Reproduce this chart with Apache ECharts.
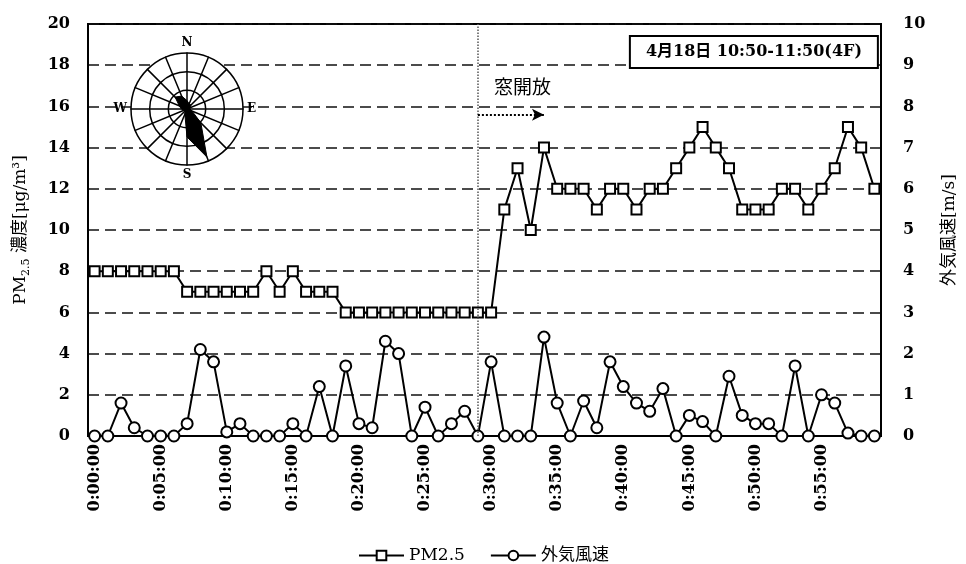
<!DOCTYPE html>
<html><head><meta charset="utf-8">
<script src="https://cdn.jsdelivr.net/npm/echarts@6/dist/echarts.min.js"></script>
<style>html,body{margin:0;padding:0;background:#fff}#c{width:966px;height:564px}</style>
</head><body><div id="c"></div>
<script>
const times = ['0:00:00','0:01:00','0:02:00','0:03:00','0:04:00','0:05:00','0:06:00','0:07:00','0:08:00','0:09:00',
'0:10:00','0:11:00','0:12:00','0:13:00','0:14:00','0:15:00','0:16:00','0:17:00','0:18:00','0:19:00',
'0:20:00','0:21:00','0:22:00','0:23:00','0:24:00','0:25:00','0:26:00','0:27:00','0:28:00','0:29:00',
'0:30:00','0:31:00','0:32:00','0:33:00','0:34:00','0:35:00','0:36:00','0:37:00','0:38:00','0:39:00',
'0:40:00','0:41:00','0:42:00','0:43:00','0:44:00','0:45:00','0:46:00','0:47:00','0:48:00','0:49:00',
'0:50:00','0:51:00','0:52:00','0:53:00','0:54:00','0:55:00','0:56:00','0:57:00','0:58:00','0:59:00'];
const pm25 = [8,8,8,8,8,8,8,7,7,7, 7,7,7,8,7,8,7,7,7,6, 6,6,6,6,6,6,6,6,6,6,
6,11,13,10,14,12,12,12,11,12, 12,11,12,12,13,14,15,14,13,11, 11,11,12,12,11,12,13,15,14,12];
const wind = [0,0,0.8,0.2,0,0,0,0.3,2.1,1.8, 0.1,0.3,0,0,0,0.3,0,1.2,0,1.7,
0.3,0.2,2.3,2.0,0,0.7,0,0.3,0.6,0, 1.8,0,0,0,2.4,0.8,0,0.85,0.2,1.8,
1.2,0.8,0.6,1.15,0,0.5,0.35,0,1.45,0.5, 0.3,0.3,0,1.7,0,1.0,0.8,0.07,0,0];
// wind rose, counter-clockwise from north
const roseLabels = ['N','','','','W','','','','S','','','','E','','',''];
const roseValues = [0.15,0.25,0.3,0.15,0.1,0.05,0.05,0.1,0.5,0.93,0.35,0.1,0.05,0.05,0.1,0.1];
const windowOpenTime = '0:29:00';
const arrowEndTime = '0:34:00';
const arrowLevel = 15.6;
const titleText = '4月18日 10:50-11:50(4F)';

const serif = 'DejaVu Serif, Noto Sans CJK JP, serif';
const chart = echarts.init(document.getElementById('c'));
chart.setOption({
  animation: false,
  backgroundColor: '#fff',
  title: {
    text: titleText, right: 88, top: 36,
    borderColor: '#000', borderWidth: 2, backgroundColor: '#fff',
    padding: [8, 16],
    textStyle: {fontFamily: serif, fontWeight: 'bold', fontSize: 16, color: '#000'}
  },
  legend: {
    left: 353, top: 542, itemWidth: 45, itemHeight: 12, itemGap: 25,
    data: ['PM2.5', '外気風速'],
    textStyle: {fontFamily: serif, fontSize: 17, color: '#000'}
  },
  grid: {left: 88, right: 81, top: 24, bottom: 128, show: true, borderColor: '#000', borderWidth: 2},
  radar: {
    center: [187, 109], radius: 56, startAngle: 90, shape: 'circle', splitNumber: 3, z: 3,
    indicator: roseLabels.map(n => ({name: n, max: 1})),
    nameGap: 4,
    axisName: {color: '#000', fontFamily: serif, fontWeight: 'bold', fontSize: 12},
    splitLine: {lineStyle: {color: '#000', width: 1.5}},
    splitArea: {show: true, areaStyle: {color: ['#fff']}},
    axisLine: {lineStyle: {color: '#000', width: 1.5}}
  },
  xAxis: {
    type: 'category', data: times, boundaryGap: true,
    axisLine: {lineStyle: {color: '#000', width: 2}},
    axisTick: {show: false},
    axisLabel: {interval: 4, rotate: 90, margin: 8, color: '#000', fontFamily: serif, fontWeight: 'bold', fontSize: 16}
  },
  yAxis: [{
    type: 'value', min: 0, max: 20, interval: 2,
    name: '{a|PM}{s|2.5}{a| 濃度[μg/m³]}', nameLocation: 'middle', nameRotate: 90, nameGap: 56,
    nameTextStyle: {rich: {
      a: {fontFamily: serif, fontSize: 17, color: '#000', lineHeight: 22},
      s: {fontFamily: serif, fontSize: 11, color: '#000', verticalAlign: 'bottom', lineHeight: 22, padding: [8, 0, 0, 0]}
    }},
    axisLine: {show: true, lineStyle: {color: '#000', width: 2}},
    axisTick: {show: false},
    axisLabel: {margin: 18, color: '#000', fontFamily: serif, fontWeight: 'bold', fontSize: 16},
    splitLine: {lineStyle: {color: '#111', width: 1.6, type: [11, 6]}}
  }, {
    type: 'value', min: 0, max: 10, interval: 1, position: 'right',
    name: '外気風速[m/s]', nameLocation: 'middle', nameRotate: 90, nameGap: 60,
    nameTextStyle: {fontFamily: serif, fontSize: 17, color: '#000'},
    axisLine: {show: true, lineStyle: {color: '#000', width: 2}},
    axisTick: {show: false},
    axisLabel: {margin: 22, color: '#000', fontFamily: serif, fontWeight: 'bold', fontSize: 16},
    splitLine: {show: false}
  }],
  series: [{
    name: 'PM2.5', type: 'line', data: pm25, yAxisIndex: 0,
    symbol: 'rect', symbolSize: 10, showAllSymbol: true,
    lineStyle: {color: '#000', width: 2},
    itemStyle: {color: '#fff', borderColor: '#000', borderWidth: 2},
    z: 4,
    markLine: {
      silent: true, animation: false,
      data: [
        [{coord: [windowOpenTime, 0], symbol: 'none'}, {coord: [windowOpenTime, 20], symbol: 'none',
          lineStyle: {type: 'dotted', color: '#555', width: 1.5}, label: {show: false}}],
        [{coord: [windowOpenTime, arrowLevel], symbol: 'none'}, {coord: [arrowEndTime, arrowLevel], symbol: 'arrow', symbolSize: [9, 12],
          lineStyle: {type: 'dotted', color: '#000', width: 2},
          label: {show: true, formatter: '窓開放', position: 'insideStartTop', distance: [16, 18],
            color: '#000', fontFamily: 'Noto Sans CJK JP', fontSize: 19}}]
      ]
    }
  }, {
    name: '外気風速', type: 'line', data: wind, yAxisIndex: 1,
    symbol: 'circle', symbolSize: 11, showAllSymbol: true,
    lineStyle: {color: '#000', width: 2},
    itemStyle: {color: '#fff', borderColor: '#000', borderWidth: 2},
    z: 4
  }, {
    name: 'rose', type: 'radar', z: 4, symbol: 'none',
    data: [{value: roseValues}],
    lineStyle: {color: '#000', width: 1},
    areaStyle: {color: '#000', opacity: 1}
  }]
});
</script></body></html>
